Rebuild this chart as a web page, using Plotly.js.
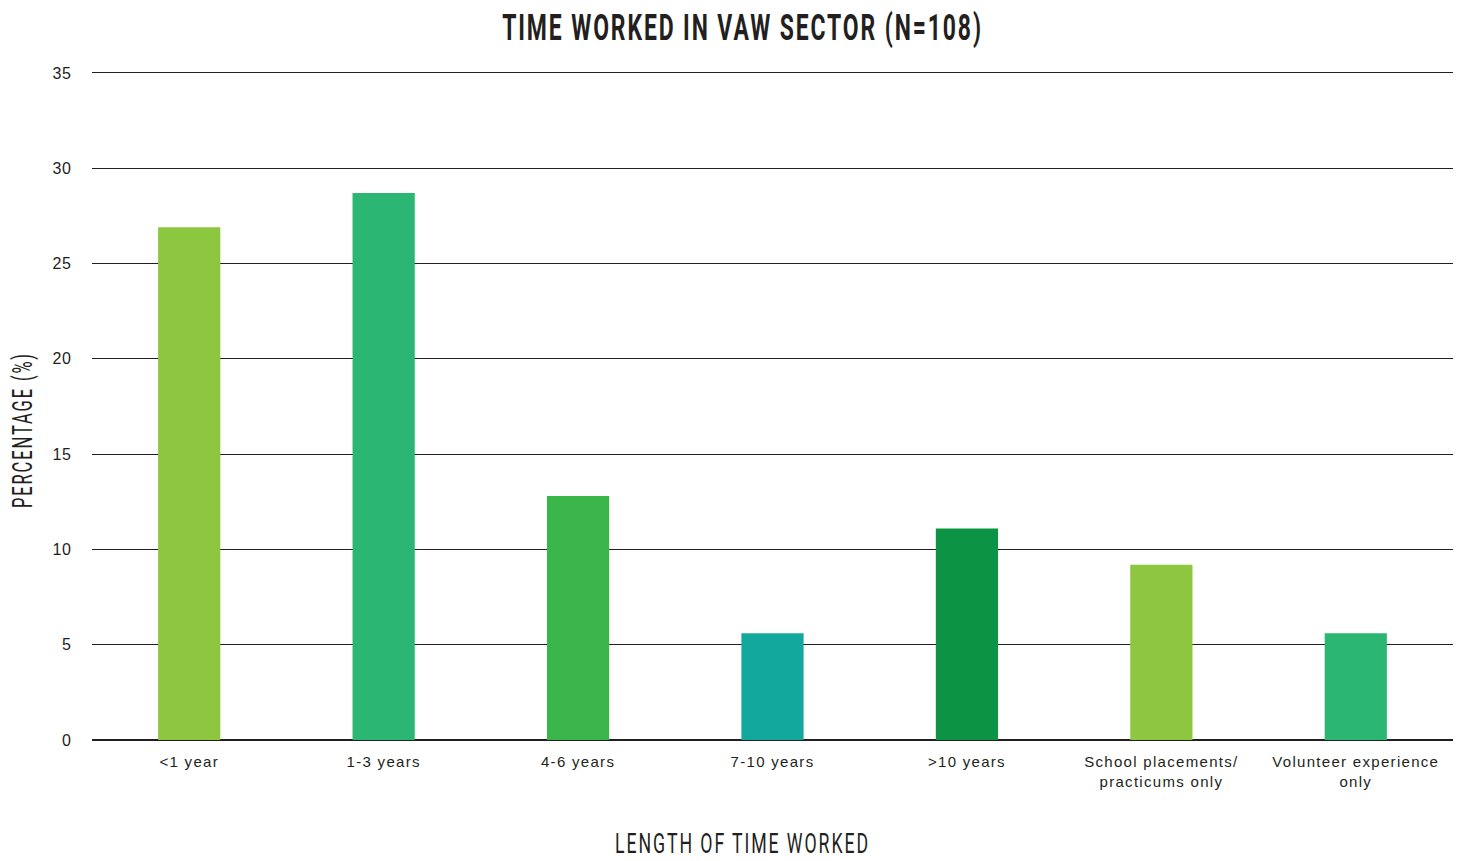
<!DOCTYPE html>
<html>
<head>
<meta charset="utf-8">
<script src="https://cdn.plot.ly/plotly-3.0.1.min.js"></script>
<style>
html,body{margin:0;padding:0;background:#fff;}
#chart{width:1463px;height:861px;}
#chart .xtick text{letter-spacing:1.3px;}
#chart .ytick text{letter-spacing:0.8px;}
#chart .gtitle{letter-spacing:3px;}
#chart .xtitle, #chart .ytitle{letter-spacing:3px;}
</style>
</head>
<body>
<div id="chart"></div>
<script>
const categories = ["<1 year", "1-3 years", "4-6 years", "7-10 years", ">10 years", "School placements/<br>practicums only", "Volunteer experience<br>only"];
const percentages = [26.9, 28.7, 12.8, 5.6, 11.1, 9.2, 5.6];
const barColors = ["#8DC63F", "#2BB673", "#39B54A", "#13A89E", "#0C9444", "#8DC63F", "#2BB673"];
const yTicks = [0, 5, 10, 15, 20, 25, 30, 35];

const trace = {
  type: 'bar',
  x: categories,
  y: percentages,
  marker: {color: barColors, line: {width: 0}},
  hoverinfo: 'x+y'
};

const layout = {
  width: 1463,
  height: 861,
  margin: {l: 92, r: 10, t: 71, b: 121},
  paper_bgcolor: '#ffffff',
  plot_bgcolor: '#ffffff',
  bargap: 0.68,
  showlegend: false,
  title: {
    text: '<b>TIME WORKED IN VAW SECTOR (N=108)</b>',
    font: {family: 'Roboto, sans-serif', size: 36, color: '#231f20'},
    x: 0.5, xanchor: 'center', y: 0.97, yanchor: 'middle'
  },
  xaxis: {
    type: 'category',
    tickfont: {family: 'Liberation Sans, Arial, sans-serif', size: 15, color: '#231f20'},
    ticks: 'outside', ticklen: 8, tickcolor: 'rgba(0,0,0,0)',
    showline: false,
    title: {text: 'LENGTH OF TIME WORKED', font: {family: 'Roboto, sans-serif', size: 28, color: '#231f20'}, standoff: 40}
  },
  yaxis: {
    range: [0, 35.1],
    tickvals: yTicks,
    ticktext: yTicks.map(String),
    tickfont: {family: 'Liberation Sans, Arial, sans-serif', size: 16, color: '#231f20'},
    ticks: 'outside', ticklen: 16, tickcolor: 'rgba(0,0,0,0)',
    showgrid: true, gridcolor: '#231f20', gridwidth: 1,
    zeroline: true, zerolinecolor: '#231f20', zerolinewidth: 1.5,
    showline: false,
    title: {text: 'PERCENTAGE (%)', font: {family: 'Roboto, sans-serif', size: 27, color: '#231f20'}, standoff: 12}
  }
};

// Condense a title along its text direction and place its centre.
function fit(el, targetLen, targetCx, targetCy) {
  if (!el) return;
  const bb = el.getBBox();
  const cx = bb.x + bb.width / 2;
  const s = targetLen / bb.width;
  const prev = el.getAttribute('transform') || '';
  el.setAttribute('transform', prev + ' translate(' + cx + ',0) scale(' + s + ',1) translate(' + (-cx) + ',0)');
  const r = el.getBoundingClientRect();
  const dx = targetCx - (r.left + r.width / 2);
  const dy = targetCy - (r.top + r.height / 2);
  el.setAttribute('transform', 'translate(' + dx + ',' + dy + ') ' + el.getAttribute('transform'));
}

Plotly.newPlot('chart', [trace], layout, {displayModeBar: false, responsive: false}).then(function (gd) {
  fit(gd.querySelector('.gtitle'), 481, 742.5, 27);
  fit(gd.querySelector('.xtitle'), 255, 742.5, 843);
  fit(gd.querySelector('.ytitle'), 156, 22.5, 430);
});
</script>
</body>
</html>
